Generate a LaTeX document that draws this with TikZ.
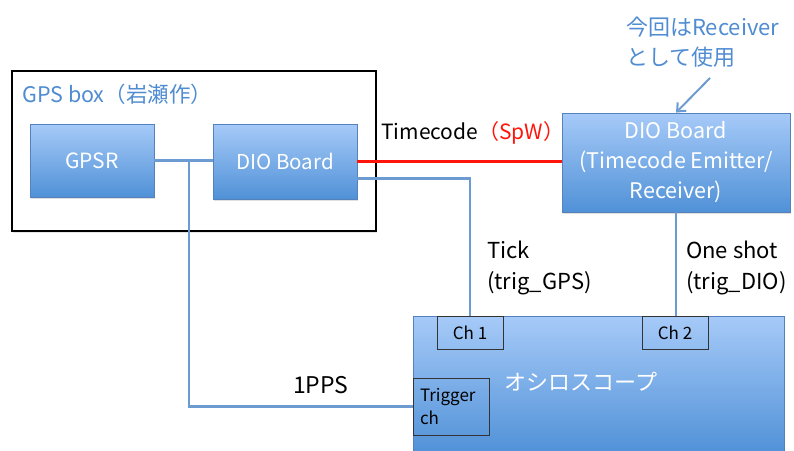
\documentclass[tikz,border=0pt]{standalone}
\usepackage{fontspec}
\setmainfont{Noto Sans CJK JP}
\usetikzlibrary{arrows.meta,shadows,calc}
\definecolor{boxtop}{RGB}{166,202,248}
\definecolor{boxbot}{RGB}{80,145,215}
\definecolor{boxedge}{RGB}{85,130,190}
\definecolor{wire}{RGB}{108,155,210}
\definecolor{lblue}{RGB}{80,140,210}
\definecolor{spwred}{RGB}{255,20,10}
\tikzset{
  bx/.style={rectangle, draw=boxedge, line width=0.8pt, top color=boxtop, bottom color=boxbot,
    text=white, font=\fontsize{21}{30}\selectfont, align=center,
    drop shadow={opacity=0.25, shadow xshift=1pt, shadow yshift=-2pt}},
  chbox/.style={rectangle, draw=black!80, line width=0.8pt, font=\fontsize{17}{23}\selectfont},
  wireline/.style={draw=wire, line width=2.6pt},
  lbl/.style={font=\fontsize{22}{31}\selectfont, align=left, anchor=west, inner sep=0pt},
}
\begin{document}
\begin{tikzpicture}[x=1pt,y=-1pt]
\useasboundingbox (0,0) rectangle (794,450);
% GPS box
\node[rectangle, draw=black, line width=1.2pt, minimum width=364pt, minimum height=160pt, inner sep=0pt,
  drop shadow={opacity=0.2, shadow xshift=1pt, shadow yshift=-2pt}, fill=white] (gpsbox) at (194,151) {};
\node[anchor=west, text=lblue, font=\fontsize{21.5}{26}\selectfont, inner sep=0pt] (gpslbl) at (22,94) {GPS box（岩瀬作）};
% boxes
\node[bx, minimum width=124pt, minimum height=73pt] (gpsr) at (92,160.5) {GPSR};
\node[bx, minimum width=144pt, minimum height=75pt, font=\fontsize{20.5}{30}\selectfont] (dio) at (285,161.5) {DIO Board};
\node[bx, minimum width=228pt, minimum height=99pt, font=\fontsize{21.5}{30}\selectfont] (dio2) at (676,162.5) {DIO Board\\(Timecode Emitter/\\Receiver)};
\node[bx, minimum width=371pt, minimum height=138pt] (scope) at (598.5,385) {};
\node[text=white, font=\fontsize{22}{26}\selectfont, inner sep=0pt] (scopelbl) at (581,382) {オシロスコープ};
\node[chbox, minimum width=66pt, minimum height=33pt] (ch1) at (470,332.5) {Ch 1};
\node[chbox, minimum width=66pt, minimum height=33pt] (ch2) at (675,332.5) {Ch 2};
\node[chbox, minimum width=76pt, minimum height=57pt, align=left, text width=62pt, inner xsep=7pt] (trig) at (451,406.5) {Trigger\\ch};
% connectors
\coordinate (j) at (189,161);
\draw[wireline] (gpsr.east) -- (gpsr.east -| dio.west);
\draw[wireline] (j) |- (trig.west);
\draw[draw=spwred, line width=2.6pt] (dio.east) -- (dio.east -| dio2.west);
\draw[wireline] ([yshift=-17pt]dio.east) -| (ch1.north);
\draw[wireline] (dio2.south) -- (dio2.south |- ch2.north);
% labels
\node[lbl, font=\fontsize{21}{26}\selectfont] (tc) at (381,133) {Timecode\textcolor{spwred}{（SpW）}};
\node[lbl] (tick) at (487,268) {Tick\\(trig\_GPS)};
\node[lbl] (oneshot) at (686,268) {One shot\\(trig\_DIO)};
\node[lbl, font=\fontsize{23}{26}\selectfont] (pps) at (293,385) {1PPS};
% callout
\node[anchor=west, text=lblue, font=\fontsize{22}{30}\selectfont, align=left, inner sep=0pt] (note) at (626,42) {今回はReceiver\\として使用};
\coordinate (noteend) at (710,78);
\draw[draw=wire, line width=2pt, -{Straight Barb[length=7pt,width=12pt]}] (noteend) -- (dio2.north);
\end{tikzpicture}
\end{document}
